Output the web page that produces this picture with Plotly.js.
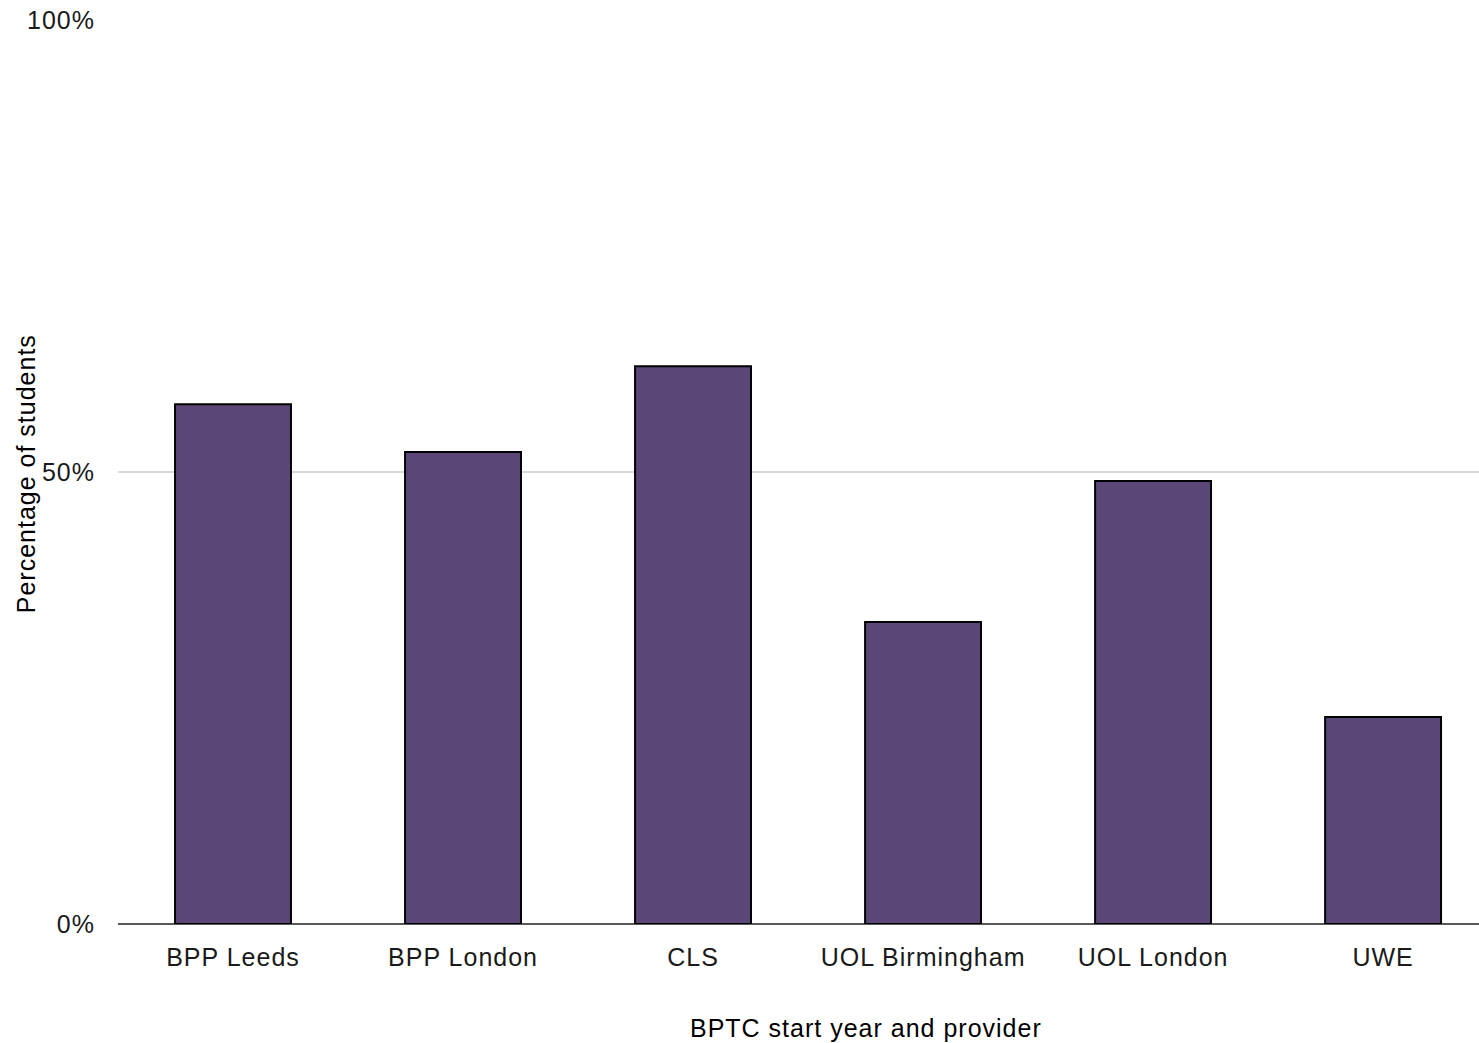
<!DOCTYPE html>
<html>
<head>
<meta charset="utf-8">
<script src="https://cdn.plot.ly/plotly-3.0.1.min.js"></script>
<style>
html,body{margin:0;padding:0;background:#fff;}
#chart{width:1479px;height:1043px;}
#chart svg text{letter-spacing:1px;}
</style>
</head>
<body>
<div id="chart"></div>
<script>
const categories = ["BPP Leeds", "BPP London", "CLS", "UOL Birmingham", "UOL London", "UWE"];
const percentages = [57.5, 52.2, 61.7, 33.4, 49.0, 22.9];
const yTickValues = [0, 50, 100];
const yTickLabels = ["0%", "50%", "100%"];

const font = "Liberation Sans, Arial, sans-serif";

const trace = {
  type: "bar",
  x: categories,
  y: percentages,
  marker: { color: "#5b4678", line: { color: "#000000", width: 2 } },
  hoverinfo: "x+y"
};

const layout = {
  width: 1479,
  height: 1043,
  margin: { l: 118, r: 0, t: 20, b: 119 },
  paper_bgcolor: "#ffffff",
  plot_bgcolor: "#ffffff",
  bargap: 0.496,
  showlegend: false,
  font: { family: font, size: 25, color: "#000000" },
  xaxis: {
    type: "category",
    range: [-0.5, 5.417],
    showgrid: false,
    showline: false,
    zeroline: false,
    ticks: "",
    ticklabelstandoff: 16,
    tickfont: { family: font, size: 25, color: "#1a1a1a" },
    fixedrange: true
  },
  yaxis: {
    range: [0, 100],
    tickvals: yTickValues,
    ticktext: yTickLabels,
    showgrid: true,
    gridcolor: "#d9d9d9",
    gridwidth: 2,
    zeroline: true,
    zerolinecolor: "#595959",
    zerolinewidth: 2,
    showline: false,
    ticks: "",
    ticklabelstandoff: 22,
    tickfont: { family: font, size: 25, color: "#1a1a1a" },
    fixedrange: true
  },
  annotations: [{
    text: "BPTC start year and provider",
    xref: "paper", yref: "paper",
    x: 0.5496, y: -0.115,
    xanchor: "center", yanchor: "middle",
    showarrow: false,
    font: { family: font, size: 25, color: "#000000" }
  }, {
    text: "Percentage of students",
    xref: "paper", yref: "paper",
    x: -0.068, y: 0.498,
    xanchor: "center", yanchor: "middle",
    textangle: -90,
    showarrow: false,
    font: { family: font, size: 25, color: "#000000" }
  }]
};

Plotly.newPlot("chart", [trace], layout, { displayModeBar: false, staticPlot: true });
</script>
</body>
</html>
